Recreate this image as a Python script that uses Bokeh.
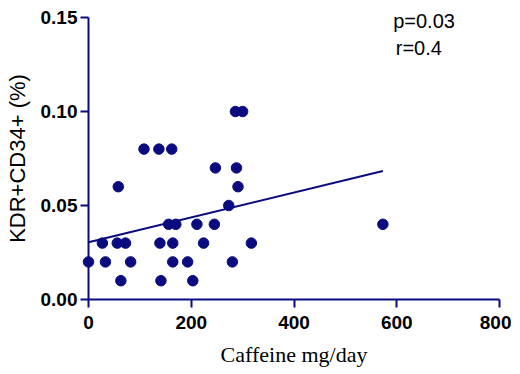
from bokeh.plotting import figure
from bokeh.models import Range1d, FixedTicker
from bokeh.core.properties import value
from bokeh.embed import file_html
from bokeh.resources import INLINE

# Data
caffeine = [0, 27, 33, 56, 58, 63, 72, 82, 108, 137, 139, 141, 156, 162, 164, 164, 170,
            193, 203, 211, 224, 245, 247, 273, 280, 286, 288, 291, 300, 317, 573]
kdr_cd34 = [0.02, 0.03, 0.02, 0.03, 0.06, 0.01, 0.03, 0.02, 0.08, 0.08, 0.03, 0.01, 0.04, 0.08,
            0.03, 0.02, 0.04, 0.02, 0.01, 0.04, 0.03, 0.04, 0.07, 0.05, 0.02, 0.10, 0.07, 0.06,
            0.10, 0.03, 0.04]
fit_x = [0, 573]
fit_y = [0.0305, 0.0683]
x_ticks = [0, 200, 400, 600, 800]
y_ticks = [0.0, 0.05, 0.10, 0.15]
y_tick_labels = {0.0: "0.00", 0.05: "0.05", 0.1: "0.10", 0.15: "0.15"}
stat_texts = ["p=0.03", "r=0.4"]
stat_x = [593, 598]
stat_y = [0.148, 0.134]

NAVY = "#0b0b80"

p = figure(frame_width=411, frame_height=282, output_backend="svg", toolbar_location=None,
           x_range=Range1d(0, 800), y_range=Range1d(0, 0.15),
           min_border_left=88, min_border_right=12, min_border_top=17, min_border_bottom=0)
p.outline_line_color = None
p.xgrid.visible = False
p.ygrid.visible = False

for ax in (p.xaxis[0], p.yaxis[0]):
    ax.axis_line_color = NAVY
    ax.axis_line_width = 2
    ax.major_tick_line_color = NAVY
    ax.major_tick_line_width = 2
    ax.major_tick_out = 8
    ax.major_tick_in = 0
    ax.minor_tick_line_color = None
    ax.major_label_text_font = "Liberation Sans"
    ax.major_label_text_font_style = "bold"
    ax.major_label_text_font_size = "19px"
    ax.major_label_text_color = "black"
    ax.axis_label_text_color = "black"
    ax.axis_label_text_font_style = "normal"

p.xaxis.ticker = FixedTicker(ticks=x_ticks)
p.yaxis.ticker = FixedTicker(ticks=y_ticks)
p.yaxis.major_label_overrides = y_tick_labels
p.xaxis.major_label_standoff = 8
p.yaxis.major_label_standoff = 3

p.xaxis.axis_label = "Caffeine mg/day"
p.xaxis.axis_label_text_font = "Liberation Serif"
p.xaxis.axis_label_text_font_size = "22px"
p.xaxis.axis_label_standoff = 10

p.yaxis.axis_label = "KDR+CD34+ (%)"
p.yaxis.axis_label_text_font = "Liberation Sans"
p.yaxis.axis_label_text_font_size = "22px"
p.yaxis.axis_label_standoff = 8

line = p.line(fit_x, fit_y, line_color=NAVY, line_width=2)
line.level = "overlay"
pts = p.scatter(caffeine, kdr_cd34, size=10.5, fill_color=NAVY, line_color=NAVY)
pts.level = "overlay"

txt = p.text(x=stat_x, y=stat_y, text=stat_texts, text_font=value("Liberation Sans"),
             text_font_size="20px", text_color="black", text_baseline="middle")
txt.level = "overlay"

open("out.html", "w").write(file_html(p, INLINE))
